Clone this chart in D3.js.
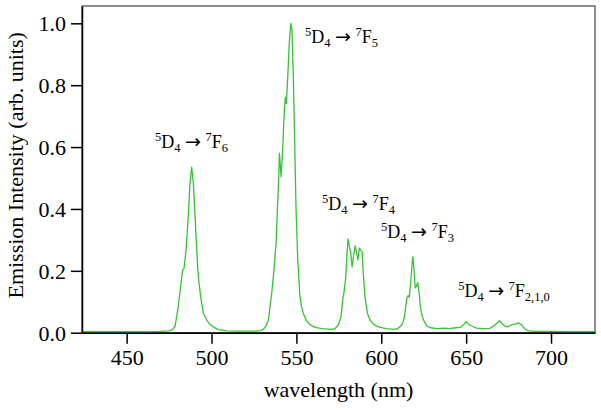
<!DOCTYPE html>
<html>
<head>
<meta charset="utf-8">
<script src="https://cdn.jsdelivr.net/npm/d3@7"></script>
<style>
  html, body { margin: 0; padding: 0; background: #fff; }
  svg { display: block; }
  svg text { font-family: "Liberation Serif", "DejaVu Serif", serif; fill: #000; }
  svg text .arrow { font-family: "DejaVu Sans", sans-serif; }
</style>
</head>
<body>
<svg id="chart" width="601" height="412"></svg>
<script>
// emission spectrum, values
const wavelength = [
  424, 440, 460, 470, 475, 477, 478.5, 480.4, 482, 483, 483.8, 485, 486.3, 487.3, 488.3,
  489.3, 490.3, 491.3, 492.2, 493.6, 495.2, 497.2, 499, 501, 504, 509, 515, 525, 529,
  530.5, 532, 533.5, 535.5, 536.8, 538, 538.8, 539.6, 540, 540.4, 541, 541.9, 542.9,
  543.5, 544.1, 544.9, 545.8, 546.7, 547.4, 548.2, 549, 549.8, 550.8, 552.1, 553, 554.1,
  556, 558, 561, 565, 570, 572.5, 574.7, 576.3, 577.3, 578.1, 579.1, 579.7, 580.4, 581.2,
  582, 582.8, 583.6, 584.6, 585.3, 586.2, 587.1, 587.9, 588.7, 589.4, 590.4, 591.8,
  593.4, 595, 597, 599.3, 603, 607.1, 609.5, 611, 612.1, 613, 614, 615, 615.8, 616.5,
  617.3, 618, 618.6, 619.2, 620, 620.7, 621.5, 622.3, 623, 624, 625, 626.8, 629, 633,
  637, 640, 644, 646.5, 648.5, 650, 651, 652.3, 654, 656, 660, 664, 667, 669.6, 671,
  673, 675, 676.9, 679, 680.8, 682.8, 684.5, 686.7, 690, 700, 710, 726
];
const intensity = [
  0.003, 0.003, 0.003, 0.004, 0.006, 0.010, 0.020, 0.084, 0.160, 0.203, 0.208, 0.267, 0.375, 0.483, 0.535,
  0.483, 0.375, 0.267, 0.181, 0.116, 0.063, 0.041, 0.027, 0.019, 0.010, 0.006, 0.005, 0.005, 0.007,
  0.011, 0.020, 0.041, 0.130, 0.203, 0.289, 0.397, 0.504, 0.580, 0.550, 0.504, 0.590, 0.720,
  0.761, 0.741, 0.827, 0.935, 1.000, 0.978, 0.827, 0.612, 0.397, 0.235, 0.116, 0.085, 0.062,
  0.038, 0.026, 0.017, 0.013, 0.011, 0.012, 0.025, 0.052, 0.106, 0.133, 0.181, 0.246, 0.303, 0.278,
  0.257, 0.213, 0.246, 0.281, 0.262, 0.235, 0.273, 0.267, 0.262, 0.192, 0.116, 0.063,
  0.041, 0.030, 0.022, 0.017, 0.013, 0.011, 0.013, 0.019, 0.025, 0.038, 0.063, 0.110, 0.120, 0.115,
  0.160, 0.210, 0.245, 0.210, 0.145, 0.150, 0.162, 0.130, 0.085, 0.055, 0.040, 0.022, 0.016, 0.013,
  0.015, 0.013, 0.016, 0.017, 0.026, 0.036, 0.030, 0.024, 0.020, 0.015, 0.013, 0.014, 0.025, 0.039, 0.030,
  0.020, 0.020, 0.026, 0.028, 0.032, 0.025, 0.012, 0.006, 0.004, 0.004, 0.003, 0.003
];

const xTicks = [450, 500, 550, 600, 650, 700];
const yTicks = [0.0, 0.2, 0.4, 0.6, 0.8, 1.0];
const xDomain = [423.7, 725.9];
const yDomain = [0, 1.056];

// transition labels: [upper sup, upper, upper sub, lower sup, lower, lower sub], anchored at (nm, value)
const transitions = [
  { nm: 466.7, v: 0.597, parts: ["5", "D", "4", "7", "F", "6"] },
  { nm: 555.1, v: 0.936, parts: ["5", "D", "4", "7", "F", "5"] },
  { nm: 565.1, v: 0.397, parts: ["5", "D", "4", "7", "F", "4"] },
  { nm: 599.9, v: 0.306, parts: ["5", "D", "4", "7", "F", "3"] },
  { nm: 645.3, v: 0.115, parts: ["5", "D", "4", "7", "F", "2,1,0"] }
];

const SERIF = '"Liberation Serif", "DejaVu Serif", serif';
const svg = d3.select("#chart");
const M = { top: 6, right: 6, bottom: 79.3, left: 82 };
const W = 601 - M.left - M.right, H = 412 - M.top - M.bottom;
const g = svg.append("g").attr("transform", `translate(${M.left},${M.top})`);

const x = d3.scaleLinear().domain(xDomain).range([0, W]);
const y = d3.scaleLinear().domain(yDomain).range([H, 0]);

// frame (top/right lighter)
g.append("rect").attr("width", W).attr("height", H)
  .attr("fill", "none").attr("stroke", "#444").attr("stroke-width", 1.2);

// spectrum
const pts = wavelength.map((w, i) => [w, intensity[i]]);
g.append("path").datum(pts)
  .attr("fill", "none").attr("stroke", "#30c830").attr("stroke-width", 1.3)
  .attr("stroke-linejoin", "round")
  .attr("d", d3.line().x((d) => x(d[0])).y((d) => y(d[1])));

// axes
const ax = g.append("g").attr("transform", `translate(0,${H})`)
  .call(d3.axisBottom(x).tickValues(xTicks).tickSize(11).tickSizeOuter(0).tickPadding(6));
const ay = g.append("g")
  .call(d3.axisLeft(y).tickValues(yTicks).tickFormat(d3.format(".1f")).tickSize(11).tickSizeOuter(0).tickPadding(5));
[ax, ay].forEach((a) => {
  a.attr("font-family", null).attr("font-size", null);
  a.select(".domain").attr("stroke", "#000").attr("stroke-width", 1.5);
  a.selectAll(".tick line").attr("stroke", "#000").attr("stroke-width", 1.5);
  a.selectAll(".tick text").style("font-family", SERIF).style("font-size", "22px").attr("fill", "#000");
});
ay.selectAll(".tick text").attr("dy", "0.34em");

// axis titles
g.append("text").attr("x", W / 2).attr("y", H + 64).attr("text-anchor", "middle")
  .style("font-size", "22px").text("wavelength (nm)");
g.append("text").attr("transform", `translate(${-59},${H / 2 - 4}) rotate(-90)`)
  .attr("text-anchor", "middle").style("font-size", "22px").text("Emission Intensity (arb. units)");

// transition labels
transitions.forEach((t) => {
  const [s1, a, b1, s2, c, b2] = t.parts;
  const tx = g.append("text").attr("x", x(t.nm)).attr("y", y(t.v)).style("font-size", "18px");
  tx.append("tspan").style("font-size", "12.5px").attr("dy", -7).text(s1);
  tx.append("tspan").attr("dy", 7).text(a);
  tx.append("tspan").style("font-size", "12.5px").attr("dy", 4).text(b1);
  tx.append("tspan").attr("dy", -4).text(" ");
  tx.append("tspan").attr("class", "arrow").style("font-size", "19px").text("\u2192");
  tx.append("tspan").text(" ");
  tx.append("tspan").style("font-size", "12.5px").attr("dy", -7).text(s2);
  tx.append("tspan").attr("dy", 7).text(c);
  tx.append("tspan").style("font-size", "12.5px").attr("dy", 4).text(b2);
});
</script>
</body>
</html>
